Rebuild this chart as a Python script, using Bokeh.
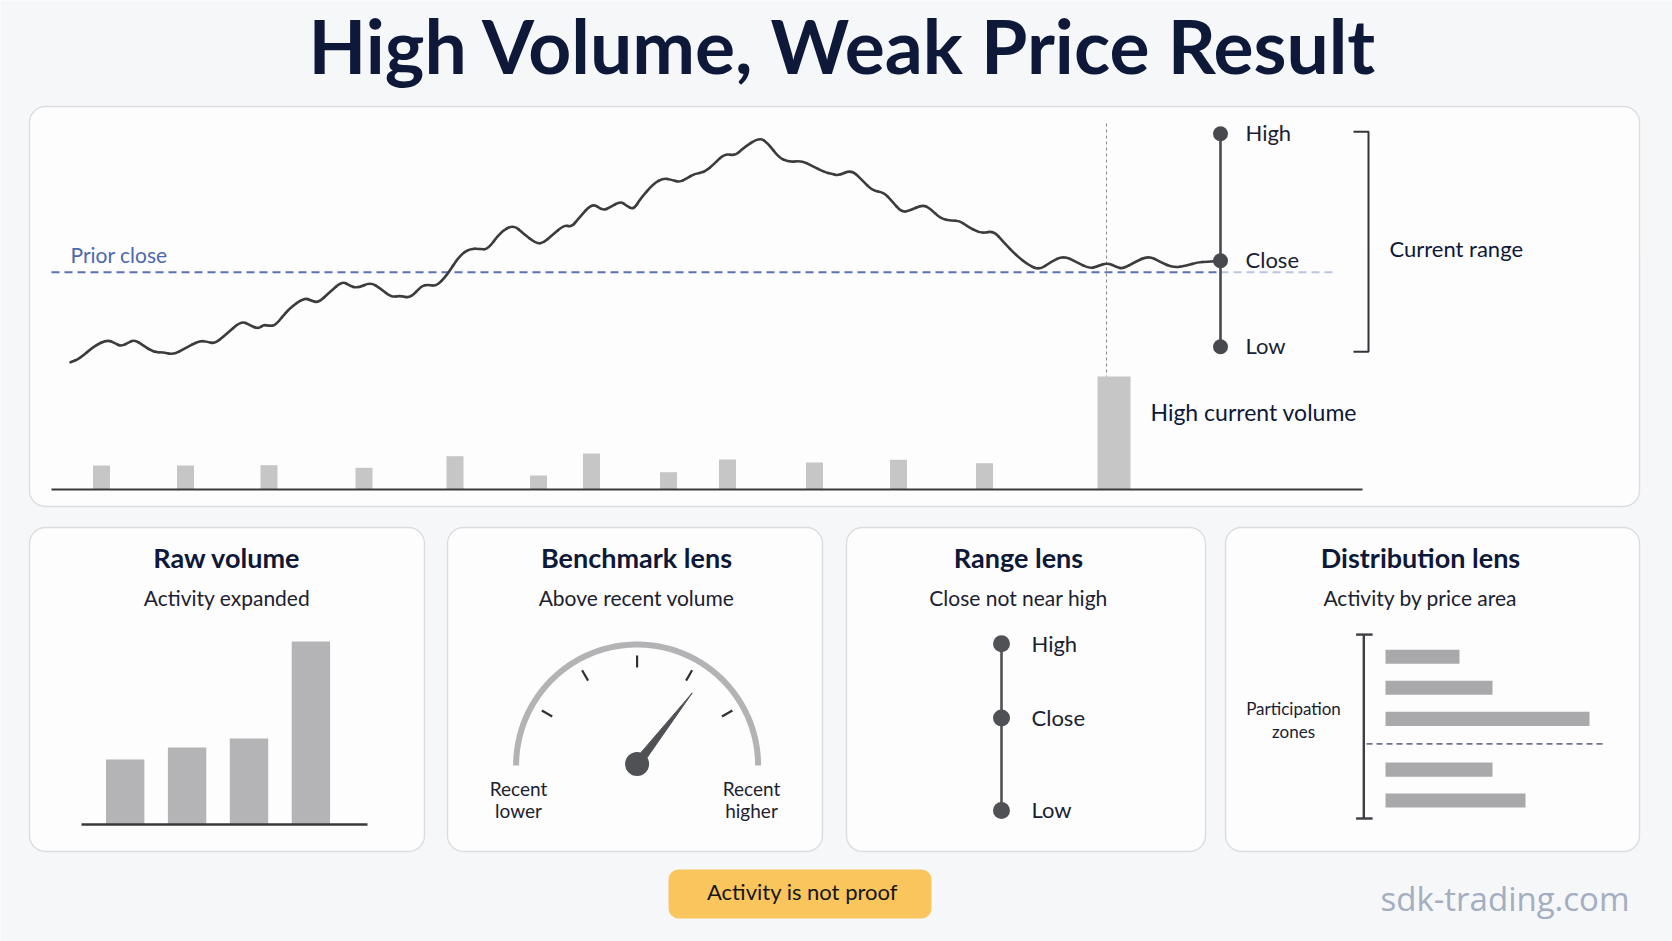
import numpy as np
from bokeh.plotting import figure
from bokeh.models import Range1d, BoxAnnotation
from bokeh.embed import file_html
from bokeh.resources import INLINE
from bokeh.core.properties import value

# ---------------- data ----------------
title = "High Volume, Weak Price Result"

price_t = [1.9, 2.8, 4.3, 5.6, 6.4, 7.0, 7.7, 8.3, 9.2, 10.2,
           11.2, 12.2, 13.3, 14.8, 15.6, 16.3, 17.3, 19.0, 19.9, 20.7,
           21.2, 21.7, 22.4, 23.7, 25.3, 26.0, 26.7, 27.8, 29.1, 29.8,
           30.6, 31.9, 32.9, 34.0, 34.9, 35.9, 37.0, 37.7, 38.5, 39.5,
           40.8, 41.8, 42.9, 43.6, 44.9, 46.2, 47.2, 48.5, 49.2, 50.0,
           51.3, 52.0, 52.7, 54.1, 55.1, 55.9, 56.9, 57.5, 58.2, 58.9,
           60.2, 61.2, 62.0, 62.8, 63.5, 64.3, 65.3, 66.3, 67.3, 68.4,
           69.1, 70.8, 71.7, 72.7, 73.7, 75.0, 76.0, 77.3, 78.0, 78.7,
           80.0, 81.1, 82.1, 83.2, 84.0, 85.0, 85.8, 87.1, 87.9, 88.9,
           90.0, 90.8, 91.5, 92.9, 94.2, 95.2, 96.5, 97.8, 98.8, 99.9,
           101.2, 102.5, 103.8, 104.6, 105.6, 106.5, 107.2, 108.3, 109.7, 110.9,
           112.2, 113.5, 114.6, 115.6, 116.9]
price_v = [82.0, 82.7, 85.3, 86.5, 85.7, 85.2, 85.9, 86.5, 85.3, 84.0,
           84.0, 83.5, 84.7, 86.3, 86.1, 85.7, 87.3, 90.3, 89.3, 88.7,
           89.5, 89.3, 89.3, 92.7, 94.9, 94.3, 93.9, 96.0, 98.2, 97.3,
           96.8, 98.0, 96.7, 95.0, 95.3, 94.8, 97.3, 97.5, 97.2, 99.3,
           103.3, 104.7, 104.7, 104.5, 108.0, 109.5, 107.7, 105.7, 105.9, 107.3,
           109.5, 109.0, 110.7, 113.9, 112.3, 113.0, 114.2, 113.3, 112.5, 114.7,
           117.7, 118.8, 118.5, 118.0, 118.7, 119.7, 120.0, 121.7, 123.7, 123.3,
           124.7, 127.0, 125.7, 123.0, 122.0, 122.3, 121.3, 120.0, 119.7, 119.3,
           120.5, 118.3, 116.3, 116.0, 114.3, 112.0, 112.3, 113.5, 112.7, 110.7,
           110.3, 110.3, 109.3, 107.7, 108.3, 106.0, 103.3, 101.3, 100.5, 102.0,
           103.3, 102.0, 100.7, 101.2, 101.9, 101.0, 100.7, 102.0, 103.3, 102.0,
           100.9, 101.3, 102.0, 102.1, 102.3]
prior_close = 100.0
range_names = ["High", "Close", "Low"]
range_values = [127.7, 102.3, 85.1]
close_t = 116.9
guide_t = 105.5
axis_end_t = 131.1

vol_t = [5.0, 13.4, 21.75, 31.25, 40.35, 48.7, 54.0, 61.7, 67.6, 76.3, 84.7, 93.3, 106.25]
vol_k = [240, 240, 243, 217, 333, 140, 360, 173, 300, 270, 297, 263, 1130]
vol_is_current = [0, 0, 0, 0, 0, 0, 0, 0, 0, 0, 0, 0, 1]

raw_idx = [0, 1, 2, 3]
raw_vol = [65, 77, 86, 183]

gauge_value = 0.71
gauge_ticks = [1 / 6, 2 / 6, 3 / 6, 4 / 6, 5 / 6]
gauge_labels = [["Recent", "lower"], ["Recent", "higher"]]

lens_names = ["High", "Close", "Low"]
lens_levels = [1.0, 0.555, 0.0]

zone_level = [5.39, 4.36, 3.32, 1.63, 0.6]
zone_activity = [74, 107, 204, 107, 140]
zone_close = 2.49
zone_top = 6.13

panel_titles = ["Raw volume", "Benchmark lens", "Range lens", "Distribution lens"]
panel_subs = ["Activity expanded", "Above recent volume", "Close not near high", "Activity by price area"]

# ---------------- styling ----------------
BG = "#f6f7f9"
PANEL = "#fdfdfd"
EDGE = "#dcdde1"
NAVY = "#0e1838"
INK = "#1b2131"
FONT = "Lato"
BASE_SHIFT = 0.4   # svg text baseline correction (fraction of font size)

W, H = 1672, 941
FX0, FX1 = 0, W
FY0, FY1 = 0, H

p = figure(width=W, height=H, x_range=Range1d(FX0, FX1), y_range=Range1d(FY1, FY0),
           output_backend="svg", toolbar_location=None, min_border=0,
           x_axis_location=None, y_axis_location=None)
p.grid.visible = False
p.outline_line_color = None
p.background_fill_color = BG
p.border_fill_color = BG


def xrange_for(d0, s0, d1, s1):
    k = (d1 - d0) / (s1 - s0)
    return Range1d(d0 + (FX0 - s0) * k, d0 + (FX1 - s0) * k)


def yrange_for(d0, s0, d1, s1):
    k = (d1 - d0) / (s1 - s0)
    return Range1d(d0 + (FY1 - s0) * k, d0 + (FY0 - s0) * k)


def sx_t(t):
    return 51 + 10 * t


def sy_p(v):
    return 271.7 - 5 * (v - 100)


def sy_vol(v):
    return 489 - 0.1 * v


def sy_lens(l):
    return 810 - 166.7 * l


p.extra_x_ranges = {
    "t": xrange_for(0, 51, 10, 151),
    "raw": xrange_for(0, 124.7, 1, 186.6),
    "act": xrange_for(0, 1385, 100, 1485),
}
p.extra_y_ranges = {
    "price": yrange_for(100, 271.7, 120, 171.7),
    "vol": yrange_for(0, 489, 1000, 389),
    "raw": yrange_for(0, 824, 100, 724),
    "lens": yrange_for(0, 810, 1, 643.3),
    "zone": yrange_for(0, 818, 1, 788),
}


def txt(x, y, s, size, color=INK, bold=False, align="left", font=FONT):
    # y is the desired alphabetic baseline in page pixels
    p.text(x=[x], y=[y - BASE_SHIFT * size], text=[s], text_font=value(font), text_font_size=f"{size}px",
           text_color=color, text_font_style="bold" if bold else "normal",
           text_align=align, text_baseline="alphabetic")


def panel(l, r, t, b, fill=PANEL, line=EDGE, radius=16):
    p.add_layout(BoxAnnotation(left=l, right=r, top=t, bottom=b, fill_color=fill, fill_alpha=1,
                               line_color=line if line else fill, line_width=1.4,
                               line_alpha=1 if line else 0,
                               border_radius=radius, level="underlay"))


# ---------------- panels ----------------
panel(29, 1639, 106, 506)
bottom_boxes = [(29, 424), (447, 822), (846, 1205), (1225, 1639)]
for (l, r) in bottom_boxes:
    panel(l, r, 527, 851)

# title
txt(843, 74, title, 75, color=NAVY, bold=True, align="center")

# ---------------- top panel ----------------
p.line([0, close_t], [prior_close, prior_close], x_range_name="t", y_range_name="price",
       line_color="#5873b4", line_width=2, line_dash="8 5")
p.line([close_t, 128.5], [prior_close, prior_close], x_range_name="t", y_range_name="price",
       line_color="#b9c5e2", line_width=2, line_dash="8 5")
txt(70, 262, "Prior close", 21, color="#4d69ae")

widths = [3.3 if c else 1.7 for c in vol_is_current]
p.vbar(x=vol_t, top=vol_k, bottom=0, width=widths, x_range_name="t", y_range_name="vol",
       fill_color="#c6c6c6", line_color=None)
p.line([0, axis_end_t], [0, 0], x_range_name="t", y_range_name="vol", line_color="#3a3a3c", line_width=2)

p.line([sx_t(guide_t), sx_t(guide_t)], [123, sy_vol(vol_k[-1])], line_color="#8d8d8d",
       line_width=1.1, line_dash="3 3")

# price path, drawn as a smooth curve through the read points
pt = np.array(price_t)
pv = np.array(price_v)
mx = (pt[:-1] + pt[1:]) / 2
my = (pv[:-1] + pv[1:]) / 2
PRICE_COL = "#3c3c3f"
p.quadratic(x0=mx[:-1], y0=my[:-1], x1=mx[1:], y1=my[1:], cx=pt[1:-1], cy=pv[1:-1],
            x_range_name="t", y_range_name="price", line_color=PRICE_COL, line_width=2.6, line_cap="round")
p.line([pt[0], mx[0]], [pv[0], my[0]], x_range_name="t", y_range_name="price",
       line_color=PRICE_COL, line_width=2.6, line_cap="round")
p.line([mx[-1], pt[-1]], [my[-1], pv[-1]], x_range_name="t", y_range_name="price",
       line_color=PRICE_COL, line_width=2.6, line_cap="round")

# range marker
p.line([close_t, close_t], [range_values[2], range_values[0]], x_range_name="t", y_range_name="price",
       line_color="#48494e", line_width=2.6)
p.scatter([close_t] * 3, range_values, x_range_name="t", y_range_name="price", size=15,
          fill_color="#48494e", line_color=None)
for name, v in zip(range_names, range_values):
    txt(1245, sy_p(v) + 8, name, 22, color=INK)

bt, bb = sy_p(range_values[0]) - 2, sy_p(range_values[2]) + 5
p.line([1353, 1368, 1368, 1353], [bt, bt, bb, bb], line_color="#34353a", line_width=2)
txt(1389, 257, "Current range", 22, color=NAVY)
txt(1150, 421, "High current volume", 23, color=NAVY)

# ---------------- bottom panels ----------------
title_x = [226.5, 636, 1018, 1420]
for x, t, s in zip(title_x, panel_titles, panel_subs):
    txt(x, 568, t, 27, color=NAVY, bold=True, align="center")
    txt(x, 605, s, 21, color=INK, align="center")

# raw volume
p.vbar(x=raw_idx, top=raw_vol, bottom=0, width=0.62, x_range_name="raw", y_range_name="raw",
       fill_color="#b4b4b6", line_color=None)
p.line([-0.706, 3.914], [0, 0], x_range_name="raw", y_range_name="raw", line_color="#3a3a3c", line_width=2.4)

# gauge
cx, cy, R = 636.6, 765.0, 121.0
ang = np.linspace(0, np.pi, 121)
p.line(cx + R * np.cos(ang), cy - R * np.sin(ang), line_color="#b3b3b5", line_width=6, line_cap="butt")
for f in gauge_ticks:
    a = np.pi * (1 - f)
    p.line([cx + 98 * np.cos(a), cx + 110 * np.cos(a)], [cy - 98 * np.sin(a), cy - 110 * np.sin(a)],
           line_color="#2f3035", line_width=2.2)
a = np.pi * (1 - gauge_value)
L, hw = 90, 4.5
pyv = cy - 1.5
tipx, tipy = cx + L * np.cos(a), pyv - L * np.sin(a)
nx, ny = np.sin(a), np.cos(a)
p.patch([cx - hw * nx, tipx, cx + hw * nx], [pyv - hw * ny, tipy, pyv + hw * ny],
        fill_color="#505155", line_color="#505155", line_width=1)
p.scatter([cx], [pyv], size=24, fill_color="#505155", line_color=None)
for x, lines in zip([518, 751], gauge_labels):
    txt(x, 796, lines[0], 19, align="center")
    txt(x, 818, lines[1], 19, align="center")

# range lens
p.line([1001, 1001], [lens_levels[2], lens_levels[0]], y_range_name="lens", line_color="#505156", line_width=2.6)
p.scatter([1001] * 3, lens_levels, y_range_name="lens", size=17, fill_color="#505156", line_color=None)
for name, l in zip(lens_names, lens_levels):
    txt(1031, sy_lens(l) + 8, name, 22)

# distribution lens
p.hbar(y=zone_level, right=zone_activity, left=0, height=0.47, x_range_name="act", y_range_name="zone",
       fill_color="#a9a9ab", line_color=None)
p.line([-21.7, -21.7], [0, zone_top], x_range_name="act", y_range_name="zone", line_color="#3d3e43", line_width=2.4)
for yv in [0, zone_top]:
    p.line([-29.4, -12.9], [yv, yv], x_range_name="act", y_range_name="zone", line_color="#3d3e43", line_width=2.4)
p.line([-19, 218.5], [zone_close, zone_close], x_range_name="act", y_range_name="zone",
       line_color="#6d7391", line_width=1.8, line_dash="6 4")
txt(1293, 715, "Participation", 17, align="center")
txt(1293, 738, "zones", 17, align="center")

# footer badge + watermark
panel(668, 931, 869, 918, fill="#f9c55c", line=None, radius=10)
txt(802, 900, "Activity is not proof", 22, color="#15161a", align="center")
txt(1629, 911, "sdk-trading.com", 33, color="#a3aec0", align="right", font="Open Sans")

html = file_html(p, INLINE, title=title)
html = html.replace("<body>", '<body style="background:%s;">' % BG, 1)
open("out.html", "w").write(html)
